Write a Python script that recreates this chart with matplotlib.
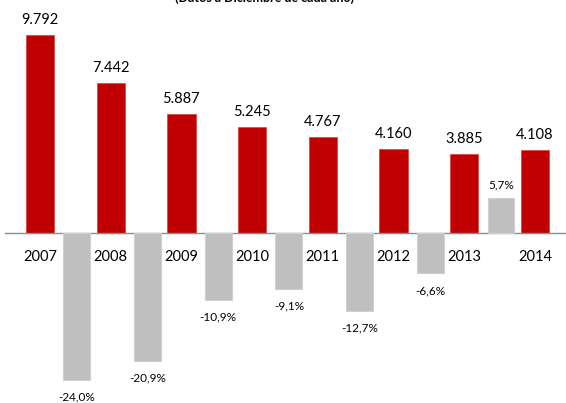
import matplotlib.pyplot as plt
import numpy as np

plt.rcParams['font.family'] = ['Lato', 'DejaVu Sans']

years = ['2007', '2008', '2009', '2010', '2011', '2012', '2013', '2014']
valores = [9792, 7442, 5887, 5245, 4767, 4160, 3885, 4108]
variacion = [-24.0, -20.9, -10.9, -9.1, -12.7, -6.6, 5.7]

rojo = '#C00000'
gris = '#BFBFBF'

fig = plt.figure(figsize=(5.66, 4.03), dpi=100)
ax = fig.add_axes([0, 0, 1, 1])
ax2 = ax.twinx()

x = np.arange(len(years))
xg = np.arange(len(variacion)) + 0.52

ax.bar(x, valores, width=0.40, color=rojo, edgecolor='#D84040', linewidth=0.5, zorder=3)
ax2.bar(xg, variacion, width=0.38, color=gris, edgecolor='#D0D0D0', linewidth=0.8, zorder=3)

# escalas ajustadas para que el cero quede en la misma linea
ax.set_ylim(-8407, 11523)
ax2.set_ylim(-27.73, 38.0)
ax.set_xlim(-0.566, 7.44)

ax.plot([-0.5, 7.6], [0, 0], color='#8C8C8C', linewidth=1.0, zorder=4)

for xi, v in zip(x, valores):
    ax.annotate(f'{v:,}'.replace(',', '.'), (xi, v), xytext=(0, 15),
                textcoords='offset pixels', ha='center', va='center', fontsize=10.5)

for xi, y in zip(x, years):
    ax.annotate(y, (xi, 0), xytext=(0, -24), textcoords='offset pixels',
                ha='center', va='center', fontsize=10.5)

for xi, p in zip(xg, variacion):
    off = 13 if p > 0 else -17
    ax2.annotate(f'{p:.1f}%'.replace('.', ','), (xi, p), xytext=(0, off),
                 textcoords='offset pixels', ha='center', va='center', fontsize=8.5)

# el titulo aparece cortado por arriba, igual que en la imagen original
fig.text(265 / 566, 1 - 4 / 403, '(Datos a Diciembre de cada año)', ha='center',
         va='bottom', fontsize=9, fontweight='bold')

for a in (ax, ax2):
    a.axis('off')

fig.savefig('out.png', dpi=100)
